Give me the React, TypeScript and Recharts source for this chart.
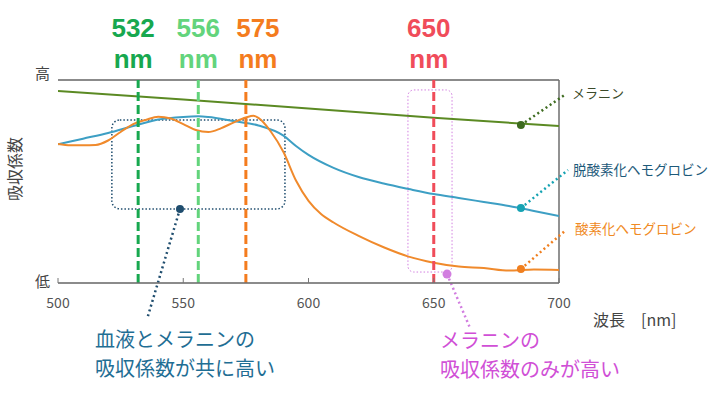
import React from "react"
import {
  LineChart,
  Line,
  XAxis,
  YAxis,
  CartesianGrid,
  ReferenceLine,
  ReferenceArea,
  ReferenceDot,
} from "recharts"

// wavelengths (nm) and relative absorption (0 = 低, 100 = 高)
const deoxyNm = [500, 510, 520, 530, 540, 550, 556, 560, 570, 580, 590, 595, 600, 610, 620, 630, 640, 650, 660, 670, 680, 690, 700]
const deoxyValues = [68.3, 71.1, 73.9, 77.3, 80.5, 81.8, 82.1, 81.8, 79.8, 77.6, 72.6, 67.5, 63.1, 56.7, 52.2, 49.0, 46.3, 43.8, 41.9, 39.9, 37.9, 35.5, 33.0]

const oxyNm = [500, 505, 510, 515, 520, 525, 530, 535, 540, 545, 550, 555, 560, 565, 570, 575, 578, 580, 585, 590, 595, 600, 605, 610, 620, 630, 640, 650, 660, 670, 680, 690, 700]
const oxyValues = [68.5, 67.8, 67.8, 68.0, 70.2, 74.4, 78.3, 80.3, 81.9, 81.0, 78.3, 75.4, 74.4, 76.2, 79.0, 81.5, 82.4, 81.3, 74.5, 64.5, 50.5, 40.5, 34.0, 29.8, 23.2, 17.6, 13.0, 10.0, 8.1, 7.4, 6.1, 6.6, 6.4]

const melaninNm = [500, 550, 600, 650, 700]
const melaninValues = [94.6, 90.4, 86.0, 81.4, 77.3]

const xTicks = [500, 550, 600, 650, 700]
const yTicks = [0, 33.3, 66.7, 100]

// laser wavelengths marked on the chart
const markers = [
  { nm: 532, color: "#17a84f", dx: -5 },
  { nm: 556, color: "#63d47c", dx: 0 },
  { nm: 575, color: "#f47c1e", dx: 12 },
  { nm: 650, color: "#f04c5a", dx: -5 },
]

const deoxyData = deoxyNm.map((nm, i) => ({ nm, v: deoxyValues[i] }))
const oxyData = oxyNm.map((nm, i) => ({ nm, v: oxyValues[i] }))
const melaninData = melaninNm.map((nm, i) => ({ nm, v: melaninValues[i] }))

const jp = "'Noto Sans CJK JP', 'Noto Sans', sans-serif"
const latin = "'Liberation Sans', Arial, sans-serif"

const TopLabel = (props: any) => {
  const { viewBox, text, color, dx } = props
  if (!viewBox) return null
  const x = viewBox.x + dx
  const y = viewBox.y
  return (
    <g fontFamily={latin} fontWeight="bold" fontSize={26} fill={color} textAnchor="middle">
      <text x={x} y={y - 43}>{text}</text>
      <text x={x} y={y - 12}>nm</text>
    </g>
  )
}

const XTick = (props: any) => {
  const { x, y, payload } = props
  return (
    <g>
      <line x1={x} x2={x} y1={y - 5} y2={y} stroke="#777" strokeWidth={1} />
      <text x={x} y={y + 25} textAnchor="middle" fontSize={14} fill="#555" fontFamily={jp}>
        {payload.value}
      </text>
    </g>
  )
}

const roundBox = (rx: number, color: string, width: number) => (p: any) => (
  <rect
    x={p.x}
    y={p.y}
    width={p.width}
    height={p.height}
    rx={rx}
    fill="none"
    stroke={color}
    strokeWidth={width}
    strokeDasharray="1.5 2"
  />
)

const leader = (color: string, w = 2.5) => ({
  stroke: color,
  strokeWidth: w,
  strokeDasharray: "2 3",
  ifOverflow: "visible" as const,
})

export default function App() {
  return (
    <div style={{ position: "absolute", left: 0, top: 0, width: 720, height: 395, background: "#fff" }}>
      <LineChart
        width={720}
        height={395}
        margin={{ top: 80, right: 161, bottom: 82, left: 58 }}
      >
        <CartesianGrid vertical={false} stroke="#d9d9d9" strokeWidth={1.5} />
        <XAxis
          type="number"
          dataKey="nm"
          domain={[500, 700]}
          ticks={xTicks}
          height={30}
          tickSize={0}
          tickMargin={0}
          tick={<XTick />}
          axisLine={{ stroke: "#6e6e6e", strokeWidth: 1.5 }}
          allowDataOverflow
        />
        <YAxis
          type="number"
          dataKey="v"
          domain={[0, 100]}
          ticks={yTicks}
          width={0}
          tick={false}
          tickLine={false}
          axisLine={{ stroke: "#6e6e6e", strokeWidth: 1.5 }}
          allowDataOverflow
        />
        <ReferenceLine y={100} stroke="#6e6e6e" strokeWidth={1.5} />
        <ReferenceLine x={700} stroke="#6e6e6e" strokeWidth={1.5} />

        <ReferenceArea
          x1={521.5}
          x2={590.6}
          y1={36.5}
          y2={80.3}
          shape={roundBox(8, "#1f4d6e", 1.5)}
          ifOverflow="visible"
        />
        <ReferenceArea
          x1={639.7}
          x2={657.3}
          y1={5.4}
          y2={95.1}
          shape={roundBox(6, "#d27ee0", 1)}
          ifOverflow="visible"
        />

        <Line data={melaninData} dataKey="v" type="linear" stroke="#5b8a23" strokeWidth={2} dot={false} isAnimationActive={false} />
        <Line data={deoxyData} dataKey="v" type="monotone" stroke="#3d9fc4" strokeWidth={2} dot={false} isAnimationActive={false} />
        <Line data={oxyData} dataKey="v" type="monotone" stroke="#f08a2c" strokeWidth={2} dot={false} isAnimationActive={false} />

        {markers.map((m) => (
          <ReferenceLine
            key={m.nm}
            x={m.nm}
            stroke={m.color}
            strokeWidth={3}
            strokeDasharray="9 4"
            label={<TopLabel text={String(m.nm)} color={m.color} dx={m.dx} />}
          />
        ))}

        {/* leaders to the curve names */}
        <ReferenceLine segment={[{ x: 684.8, y: 77.8 }, { x: 702.8, y: 93.1 }]} {...leader("#3d6b1f")} />
        <ReferenceLine segment={[{ x: 684.8, y: 36.9 }, { x: 703.6, y: 55.7 }]} {...leader("#16a3b3")} />
        <ReferenceLine segment={[{ x: 684.8, y: 6.9 }, { x: 702.8, y: 26.1 }]} {...leader("#f07f1f")} />
        <ReferenceLine segment={[{ x: 548.7, y: 36.5 }, { x: 535.9, y: -16.3 }]} {...leader("#1f4d6e")} />
        <ReferenceLine segment={[{ x: 655.3, y: 4.4 }, { x: 664.5, y: -22.2 }]} {...leader("#d27ee0")} />

        <ReferenceDot x={684.8} y={77.8} r={4} fill="#3d6b1f" stroke="none" ifOverflow="visible" />
        <ReferenceDot x={684.8} y={36.9} r={4} fill="#16a3b3" stroke="none" ifOverflow="visible" />
        <ReferenceDot x={684.8} y={6.9} r={4} fill="#f07f1f" stroke="none" ifOverflow="visible" />
        <ReferenceDot x={548.7} y={36.5} r={4} fill="#1f4d6e" stroke="none" ifOverflow="visible" />
        <ReferenceDot x={655.3} y={4.4} r={4.5} fill="#d27ee0" stroke="none" ifOverflow="visible" />
      </LineChart>

      <svg
        width={720}
        height={395}
        style={{ position: "absolute", left: 0, top: 0, pointerEvents: "none" }}
        fontFamily={jp}
      >
        <text transform="translate(21,169) rotate(-90)" textAnchor="middle" fontSize={16} fill="#444">吸収係数</text>
        <text x={35} y={79} fontSize={15} fill="#444">高</text>
        <text x={35} y={287} fontSize={15} fill="#444">低</text>

        <text x={572} y={98} fontSize={13} fill="#3b4a2a">メラニン</text>
        <text x={573} y={175} fontSize={13.5} fill="#1d5a7a">脱酸素化ヘモグロビン</text>
        <text x={575} y={234} fontSize={13.5} fill="#f08a24">酸素化ヘモグロビン</text>

        <text x={593} y={326} fontSize={16} fill="#444">波長</text>
        <text x={641} y={326} fontSize={16} fill="#444">[nm]</text>

        <text x={95} y={347} fontSize={20} fill="#1f6e94">血液とメラニンの</text>
        <text x={95} y={376} fontSize={20} fill="#1f6e94">吸収係数が共に高い</text>

        <text x={440} y={348} fontSize={20} fill="#d04fd6">メラニンの</text>
        <text x={440} y={377} fontSize={20} fill="#d04fd6">吸収係数のみが高い</text>
      </svg>
    </div>
  )
}
